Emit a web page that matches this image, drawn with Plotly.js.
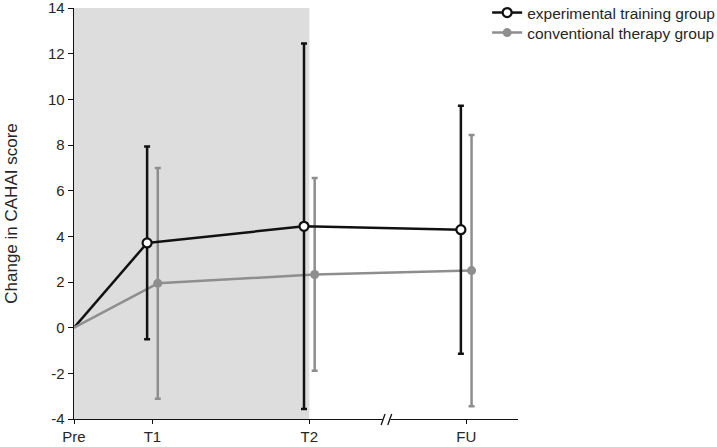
<!DOCTYPE html>
<html>
<head>
<meta charset="utf-8">
<script src="https://cdn.plot.ly/plotly-3.0.1.min.js"></script>
<style>html,body{margin:0;padding:0;background:#fff;}#chart{width:717px;height:447px;}</style>
</head>
<body>
<div id="chart"></div>
<script>
var timepoints = ['Pre', 'T1', 'T2', 'FU'];
var timePos = [0, 1, 3, 5];
var expName = 'experimental training group';
var expMean = [0, 3.71, 4.44, 4.29];
var expSD = [0, 4.22, 8.00, 5.43];
var convName = 'conventional therapy group';
var convMean = [0, 1.94, 2.33, 2.50];
var convSD = [0, 5.05, 4.22, 5.94];
var yTicks = [-4, -2, 0, 2, 4, 6, 8, 10, 12, 14];
var yTickText = ['-4', '-2', '0', '2', '4', '6', '8', '10', '12', '14'];

var off = 0.068;
var BLACK = '#111111', GRAY = '#8e8e8e';

function shifted(d) { return timePos.slice(1).map(function (p) { return p + d; }); }

var traces = [
  { x: [timePos[0], timePos[1] - off], y: [expMean[0], expMean[1]], mode: 'lines',
    line: { color: BLACK, width: 2.5 }, showlegend: false, hoverinfo: 'skip' },
  { x: [timePos[0], timePos[1] + off], y: [convMean[0], convMean[1]], mode: 'lines',
    line: { color: GRAY, width: 2.5 }, showlegend: false, hoverinfo: 'skip' },
  { x: shifted(off), y: convMean.slice(1), name: convName, mode: 'lines+markers', legend: 'legend2',
    line: { color: GRAY, width: 2.5 },
    marker: { color: GRAY, size: 9, symbol: 'circle' },
    error_y: { type: 'data', array: convSD.slice(1), visible: true, color: GRAY, thickness: 2.5, width: 3 } },
  { x: shifted(-off), y: expMean.slice(1), name: expName, mode: 'lines+markers', legend: 'legend',
    line: { color: BLACK, width: 2.5 },
    marker: { color: '#ffffff', size: 9, symbol: 'circle', line: { color: BLACK, width: 2.2 } },
    error_y: { type: 'data', array: expSD.slice(1), visible: true, color: BLACK, thickness: 2.5, width: 3 } }
];

function py(p) { return (419 - p) / 411; }

var legendStyle = function (rowCenterPx) {
  return { x: 0.9305, y: py(rowCenterPx), xanchor: 'left', yanchor: 'middle',
    bgcolor: 'rgba(0,0,0,0)', font: { size: 15.5, color: '#262626' }, itemwidth: 30 };
};

var layout = {
  width: 717, height: 447,
  margin: { l: 74, r: 199, t: 8, b: 28, autoexpand: false },
  paper_bgcolor: '#ffffff', plot_bgcolor: '#ffffff',
  font: { family: 'Liberation Sans, Arial, sans-serif', size: 15, color: '#262626' },
  showlegend: true,
  legend: legendStyle(13),
  legend2: legendStyle(33),
  xaxis: {
    range: [0, 5.66], tickmode: 'array', tickvals: timePos, ticktext: timepoints,
    showline: true, linecolor: '#111', linewidth: 1.3, ticks: 'outside', ticklen: 4, tickwidth: 1,
    tickcolor: '#111', showgrid: false, zeroline: false, fixedrange: true, ticklabeloverflow: 'allow'
  },
  yaxis: {
    range: [-4, 14], tickmode: 'array', tickvals: yTicks, ticktext: yTickText,
    showline: true, linecolor: '#111', linewidth: 1.3, ticks: 'outside', ticklen: 5, tickwidth: 1,
    tickcolor: '#111', showgrid: false, zeroline: false, fixedrange: true, ticklabeloverflow: 'allow',
    title: { text: 'Change in CAHAI score', font: { size: 17, color: '#262626' }, standoff: 26 }
  },
  shapes: [
    { type: 'rect', xref: 'x', yref: 'paper', x0: timePos[0], x1: timePos[2], y0: 0, y1: 1,
      fillcolor: '#dddddd', line: { width: 0 }, layer: 'below' },
    { type: 'rect', xref: 'x', yref: 'paper', x0: 3.935, x1: 4.035, y0: py(421.5), y1: py(416.5),
      fillcolor: '#ffffff', line: { width: 0 }, layer: 'above' },
    { type: 'line', xref: 'x', yref: 'paper', x0: 3.915, x1: 3.965, y0: py(425), y1: py(414),
      line: { color: '#111', width: 1.3 }, layer: 'above' },
    { type: 'line', xref: 'x', yref: 'paper', x0: 4.0, x1: 4.05, y0: py(425), y1: py(414),
      line: { color: '#111', width: 1.3 }, layer: 'above' }
  ]
};

Plotly.newPlot('chart', traces, layout, { displayModeBar: false, staticPlot: true });
</script>
</body>
</html>
